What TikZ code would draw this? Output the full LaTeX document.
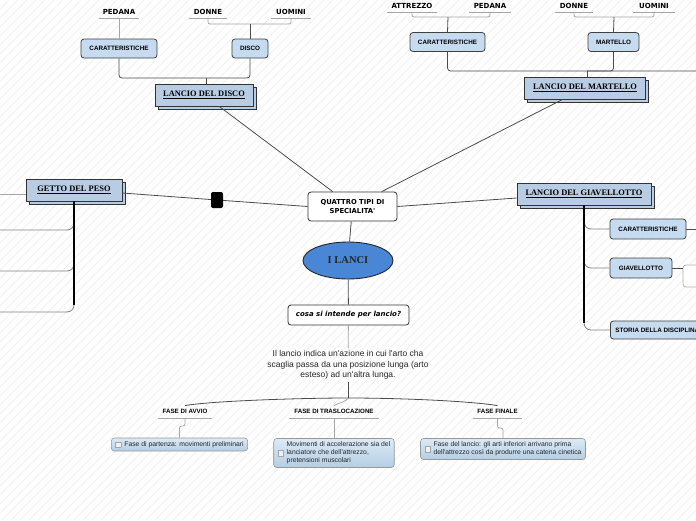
\documentclass[tikz,border=0pt]{standalone}
\usepackage{fontspec}
\setmainfont{Liberation Serif}
\newfontfamily\vfont{DejaVu Sans}
\newfontfamily\afont{Liberation Sans}
\usetikzlibrary{shapes.geometric,shadows}

\definecolor{boxblue}{HTML}{C6DBF0}
\definecolor{titleblue}{HTML}{B8CCE4}
\definecolor{ellblue}{HTML}{4A86D6}
\definecolor{boxtop}{HTML}{DCEAF6}
\definecolor{boxbot}{HTML}{B4CEE4}
\definecolor{hatchgray}{HTML}{EDEDED}

\newcommand{\aps}{\textquotesingle}
\newcommand{\chkbox}{$\vcenter{\hbox{\fboxsep=0pt\fboxrule=0.5pt\fcolorbox{gray!70}{gray!12}{\rule{0pt}{5pt}\rule{5pt}{0pt}}}}$}

\begin{document}
\begin{tikzpicture}[x=1pt, y=-1pt,
  leaf/.style={font=\vfont\bfseries\fontsize{7}{8}\selectfont, anchor=south, minimum height=12, inner sep=0},
  phase/.style={font=\afont\bfseries\fontsize{6.2}{7}\selectfont, anchor=south, minimum height=12, inner sep=0},
  uline/.style={draw=black!35, line width=0.9},
  dark/.style={draw=black!70, line width=0.8},
  mid/.style={draw=black!50, line width=0.8},
  light/.style={draw=black!35, line width=0.8},
  trunk/.style={draw=black, line width=2.2},
  hatchline/.style={draw=hatchgray, line width=0.5},
  subbox/.style={draw=black!75, fill=boxblue, rounded corners=3, line width=0.8, font=\afont\bfseries\fontsize{6.3}{7}\selectfont, minimum height=19, inner xsep=5},
  titlebox/.style={draw=black!80, fill=titleblue, line width=0.8, copy shadow={shadow xshift=3pt, shadow yshift=-3pt}, font=\bfseries\fontsize{8.4}{10}\selectfont, minimum height=22, inner xsep=5},
  qbox/.style={draw=black!80, fill=white, rounded corners=3, line width=0.8, minimum width=89, minimum height=29, align=center, font=\vfont\bfseries\fontsize{6.8}{8.5}\selectfont},
  cbox/.style={draw=black!80, fill=white, rounded corners=3, line width=0.8, minimum width=121, minimum height=20, font=\vfont\bfseries\fontsize{7}{8}\selectfont},
  ell/.style={ellipse, draw=black!85, fill=ellblue, line width=0.9, minimum width=90, minimum height=37, font=\bfseries\fontsize{10.5}{12}\selectfont, text=black!85},
  para/.style={align=center, font=\afont\fontsize{8.5}{10.5}\selectfont, inner sep=2, text=black!85},
  fbox/.style={draw=black!40, top color=boxtop, bottom color=boxbot, rounded corners=3, line width=0.6, font=\afont\fontsize{6.8}{8}\selectfont, inner xsep=4, inner ysep=2.5, text=black!85},
  handle/.style={fill=black, rounded corners=2, minimum width=12, minimum height=16, inner sep=0},
  imgbox/.style={draw=black!30, fill=white, rounded corners=3, line width=0.8, minimum width=40, minimum height=22}]
\useasboundingbox (0,0) rectangle (696,520);
\clip (0,0) rectangle (696,520);
\fill[white] (0,0) rectangle (696,520);
\foreach \i in {-520,-511,...,700} \draw[hatchline] (\i,520) -- (\i+520,0);

% lancio del disco
\node[leaf, minimum width=40] (pedL) at (119,18) {PEDANA};
\node[leaf, minimum width=38] (donL) at (208,18) {DONNE};
\node[leaf, minimum width=40] (uomL) at (291,18) {UOMINI};
\foreach \n in {pedL,donL,uomL} \draw[uline] (\n.south west) -- (\n.south east);
\node[subbox, minimum width=76] (carL) at (119,48.5) {CARATTERISTICHE};
\node[subbox, minimum width=36] (disL) at (250,48.5) {DISCO};
\node[titlebox, minimum width=98] (discoT) at (204,95) {\underline{LANCIO DEL DISCO}};
\coordinate (jDU) at (250,24);
\coordinate (jCD) at (206,78);
\draw[light] (pedL.south) -- (carL.north);
\draw[light, rounded corners=2] (donL.south) |- (jDU) -| (uomL.south);
\draw[dark] (jDU) -- (disL.north);
\draw[dark, rounded corners=3] (carL.south) |- (jCD) -| (disL.south);
\draw[dark] (jCD) -- (jCD |- discoT.north);

% lancio del martello
\node[leaf, minimum width=50] (attM) at (412,12) {ATTREZZO};
\node[leaf, minimum width=41] (pedM) at (490,12) {PEDANA};
\node[leaf, minimum width=37] (donM) at (574,12) {DONNE};
\node[leaf, minimum width=41] (uomM) at (654,12) {UOMINI};
\foreach \n in {attM,pedM,donM,uomM} \draw[uline] (\n.south west) -- (\n.south east);
\node[subbox, minimum width=75] (carM) at (447.5,42) {CARATTERISTICHE};
\node[subbox, minimum width=51] (marM) at (613.5,42) {MARTELLO};
\node[titlebox, minimum width=121] (martT) at (585,88) {\underline{LANCIO DEL MARTELLO}};
\coordinate (jAP) at (448,17);
\coordinate (jDM) at (614,17);
\coordinate (jCM) at (587,71);
\coordinate (offM) at (700,71);
\draw[light, rounded corners=2] (attM.south) |- (jAP) -| (pedM.south);
\draw[dark] (jAP) -- (carM.north);
\draw[light, rounded corners=2] (donM.south) |- (jDM) -| (uomM.south);
\draw[dark] (jDM) -- (marM.north);
\draw[dark, rounded corners=3] (carM.south) |- (offM);
\draw[dark, rounded corners=3] (marM.south) |- (jCM);
\draw[dark] (jCM) -- (jCM |- martT.north);

% centro
\node[qbox] (quattro) at (352.5,206.5) {QUATTRO TIPI DI\\SPECIALITA\aps};
\node[ell] (lanci) at (348,260.5) {I LANCI};
\node[cbox] (cosa) at (348.5,315) {\itshape cosa si intende per lancio?};
\node[para] (para) at (348,365) {Il lancio indica un\aps azione in cui l\aps arto cha\\scaglia passa da una posizione lunga (arto\\esteso) ad un\aps altra lunga.};
\draw[dark] (discoT) -- (quattro);
\draw[dark] (martT) -- (quattro);
\draw[dark] (quattro) -- (lanci);
\draw[dark] (lanci) -- (cosa);
\draw[light] (cosa) -- (para);

% getto del peso
\node[titlebox, minimum width=96] (gettoT) at (74,190) {\underline{GETTO DEL PESO}};
\node[handle] (hnd) at (217,200) {};
\draw[dark] ([yshift=-3pt]gettoT.east) -- (hnd) -- (quattro.west);
\coordinate (offG) at (-4,194);
\draw[light] (offG) -- (offG -| gettoT.west);
\foreach \y [count=\k] in {230,271,312} \coordinate (offG\k) at (-4,\y);
\foreach \k in {1,2,3} \draw[mid, rounded corners=7] (gettoT.south) |- (offG\k);
\draw[trunk] (gettoT.south) -- ++(0,104);

% lancio del giavellotto
\node[titlebox, minimum width=134] (giavT) at (584,194) {\underline{LANCIO DEL GIAVELLOTTO}};
\draw[dark] (quattro.east) -- ([yshift=-4pt]giavT.west);
\node[subbox, minimum width=76, minimum height=20] (carG) at (648,229) {CARATTERISTICHE};
\node[subbox, minimum width=62, minimum height=20] (giavG) at (641,268) {GIAVELLOTTO};
\node[subbox, minimum height=18, anchor=west] (storG) at (610,330) {STORIA DELLA DISCIPLINA};
\node[imgbox] (giavImg) at (703,276) {};
\foreach \n in {carG,giavG,storG} \draw[mid, rounded corners=7] (giavT.south) |- (\n.west);
\draw[trunk] (giavT.south) -- ++(0,118);
\coordinate (offC) at (700,229);
\draw[dark] (carG.east) -- (offC);
\draw[dark] (giavG.east) -- (giavG.east -| giavImg.west);

% fasi
\coordinate (jF) at (348,398);
\draw[dark] (para.south) -- (jF);
\node[phase, minimum width=54] (avvio) at (185,418) {FASE DI AVVIO};
\node[phase, minimum width=89] (trasl) at (334,418) {FASE DI TRASLOCAZIONE};
\node[phase, minimum width=49] (finale) at (497.5,418) {FASE FINALE};
\foreach \n in {avvio,trasl,finale} \draw[uline] (\n.south west) -- (\n.south east);
\draw[dark] (jF) .. controls (300,398) and (210,401) .. (avvio.north);
\draw[light] (jF) .. controls (346,402) and (338,403) .. (trasl.north);
\draw[dark] (jF) .. controls (400,398) and (470,401) .. (finale.north);
\node[fbox] (fb1) at (179.5,444.5) {\chkbox\hspace{3pt}\begin{tabular}[c]{@{}l@{}}Fase di partenza: movimenti preliminari\end{tabular}};
\node[fbox] (fb2) at (334,453) {\chkbox\hspace{3pt}\begin{tabular}[c]{@{}l@{}}Movimenti di accelerazione sia del\\lanciatore che dell\aps attrezzo,\\pretensioni muscolari\end{tabular}};
\node[fbox] (fb3) at (503,449) {\chkbox\hspace{3pt}\begin{tabular}[c]{@{}l@{}}Fase del lancio: gli arti inferiori arrivano prima\\dell\aps attrezzo così da produrre una catena cinetica\end{tabular}};
\draw[light, rounded corners=2] (avvio.south) -- ++(0,8) -| (fb1.north);
\draw[light] (trasl.south) -- (fb2.north);
\draw[light, rounded corners=2] (finale.south) -- ++(0,10) -| (fb3.north);
\end{tikzpicture}
\end{document}
